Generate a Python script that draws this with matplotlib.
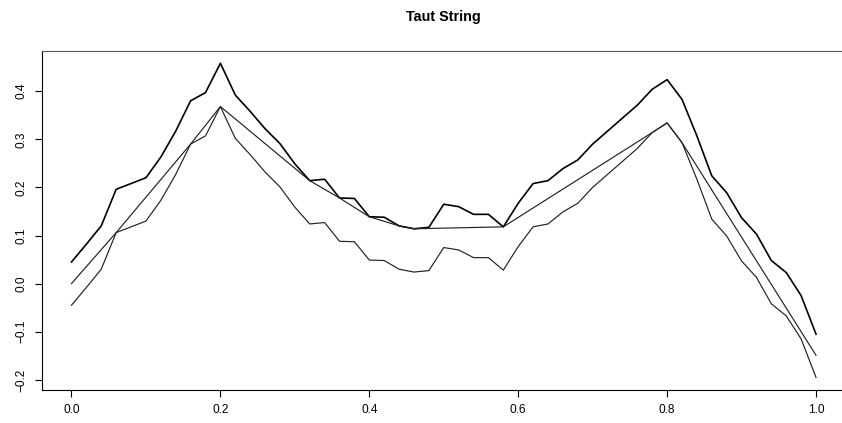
import matplotlib
matplotlib.use("Agg")
import matplotlib.pyplot as plt
import numpy as np

# grid of x positions (0, 0.02, ..., 1.0)
x = np.linspace(0, 1, 51)

# upper bound of the tube
upper = [0.045, 0.082, 0.120, 0.196, 0.208, 0.220, 0.263, 0.317, 0.380, 0.397,
         0.458, 0.392, 0.358, 0.322, 0.291, 0.249, 0.214, 0.217, 0.178, 0.177,
         0.139, 0.138, 0.120, 0.114, 0.117, 0.165, 0.160, 0.144, 0.144, 0.118,
         0.167, 0.208, 0.214, 0.239, 0.257, 0.290, 0.317, 0.344, 0.371, 0.404,
         0.424, 0.383, 0.307, 0.224, 0.189, 0.137, 0.103, 0.048, 0.023, -0.025,
         -0.105]

# lower bound of the tube
lower = [-0.045, -0.008, 0.030, 0.106, 0.118, 0.130, 0.173, 0.227, 0.290, 0.307,
         0.368, 0.302, 0.268, 0.232, 0.201, 0.159, 0.124, 0.127, 0.088, 0.087,
         0.049, 0.048, 0.030, 0.024, 0.027, 0.075, 0.070, 0.054, 0.054, 0.028,
         0.077, 0.118, 0.124, 0.149, 0.167, 0.200, 0.227, 0.254, 0.281, 0.314,
         0.334, 0.293, 0.217, 0.134, 0.099, 0.047, 0.013, -0.042, -0.067, -0.115,
         -0.195]

# knots of the taut string
knot_x = [0.0, 0.06, 0.16, 0.20, 0.32, 0.36, 0.40, 0.44, 0.46, 0.58, 0.78, 0.80, 0.82, 1.0]
knot_y = [0.0, 0.106, 0.290, 0.368, 0.214, 0.178, 0.139, 0.120, 0.114, 0.118, 0.314, 0.334, 0.293, -0.149]

xticks = [0.0, 0.2, 0.4, 0.6, 0.8, 1.0]
yticks = [-0.2, -0.1, 0.0, 0.1, 0.2, 0.3, 0.4]

plt.rcParams['font.family'] = ['Liberation Sans', 'DejaVu Sans']

fig = plt.figure(figsize=(8.42, 4.23), dpi=100)
W, H = 842, 423
# plot region runs past the right edge of the picture (cropped like the original)
ax = fig.add_axes([41.7 / W, 33 / H, (845.8 - 41.7) / W, (390 - 50.7) / H])

ax.plot(x, upper, color='black', lw=1.2)
ax.plot(x, lower, color='#222222', lw=0.85)
ax.plot(knot_x, knot_y, color='#222222', lw=0.85)

ax.set_xlim(-0.04, 1.04)
ymin = min(lower)
ymax = max(upper)
pad = (ymax - ymin) * 0.04
ax.set_ylim(ymin - pad, ymax + pad)

ax.set_xticks(xticks)
ax.set_xticklabels([f"{t:.1f}" for t in xticks])
ax.set_yticks(yticks)
ax.set_yticklabels([f"{t:.1f}".replace('-', '\u2212') for t in yticks], rotation=90, va='center')

ax.tick_params(direction='out', length=5.2, width=0.8, labelsize=8.6, pad=5, colors='black')
for s in ax.spines.values():
    s.set_linewidth(0.8)
ax.spines['top'].set_color('#555555')
ax.spines['right'].set_visible(False)

fig.text(443.7 / W, 1 - 16.7 / H, 'Taut String', ha='center', va='center',
         fontsize=10.4, fontweight='bold')

fig.savefig('out.png', dpi=100)
